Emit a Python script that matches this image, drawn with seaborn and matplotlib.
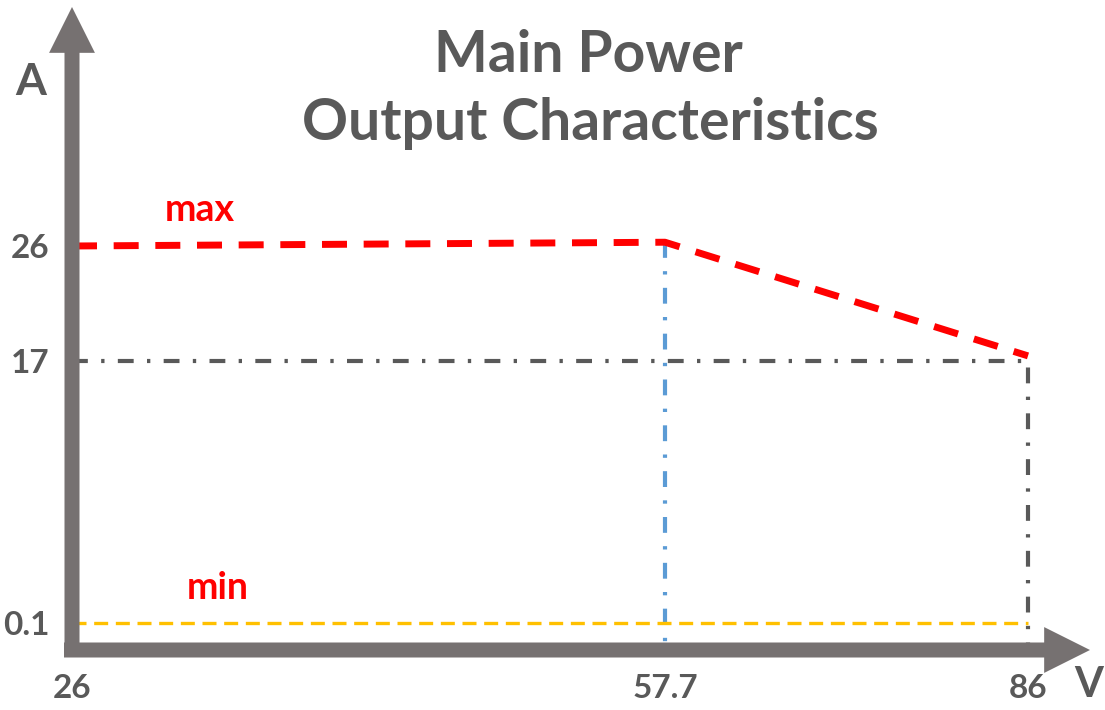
import numpy as np
import matplotlib
matplotlib.use('Agg')
import matplotlib.pyplot as plt
import seaborn as sns

# data
x_ticks = [26, 57.7, 86]
y_ticks = [0.1, 17, 26]
max_v = [26, 57.7, 86]
max_a = [26, 26.3, 17.4]
min_v = [26, 86]
min_a = [0.1, 0.1]
knee_v = [57.7, 57.7]
knee_a = [26.3, 0]
limit_v = [26, 86, 86]
limit_a = [17, 17, 0]

# schematic (non-linear) axes: value knots -> axes pixels
x_knots = [26, 57.7, 86, 100]
x_pix = [0, 593, 956, 1018]
y_knots = [0, 0.1, 17, 26, 45]
y_pix = [0, 27, 289, 404, 643]

def fx(v):
    return np.interp(v, x_knots, x_pix)

def ix(p):
    return np.interp(p, x_pix, x_knots)

def fy(v):
    return np.interp(v, y_knots, y_pix)

def iy(p):
    return np.interp(p, y_pix, y_knots)

sns.set_theme(style='white')
plt.rcParams['font.family'] = ['Lato', 'DejaVu Sans']

TXT = '#595959'
AXC = '#767171'

W, H = 1105, 710
fig = plt.figure(figsize=(W / 100, H / 100), dpi=100)
ax = fig.add_axes([72 / W, 60 / H, (1090 - 72) / W, 643 / H])
ax.set_xscale('function', functions=(fx, ix))
ax.set_yscale('function', functions=(fy, iy))
ax.set_xlim(26, 100)
ax.set_ylim(0, 45)
for s in ax.spines.values():
    s.set_visible(False)

dashdot = (0, (3.8, 3.2, 0.8, 3.2))
line_kw = dict(ax=ax, sort=False, estimator=None, errorbar=None)
sns.lineplot(x=limit_v, y=limit_a, color=TXT, lw=3, linestyle=dashdot, **line_kw)
sns.lineplot(x=knee_v, y=knee_a, color='#5B9BD5', lw=3, linestyle=dashdot, **line_kw)
sns.lineplot(x=min_v, y=min_a, color='#FFC000', lw=2.4, linestyle=(0, (4.2, 2.3)), **line_kw)
sns.lineplot(x=max_v, y=max_a, color='#FF0000', lw=5, linestyle=(0, (3.6, 2.4)), **line_kw)

# axis arrows
arrow = 'simple,head_length=3.3,head_width=3.3,tail_width=1.08'
ax.annotate('', xy=(0, 1), xytext=(0, -7 / 643), xycoords='axes fraction',
            arrowprops=dict(arrowstyle=arrow, mutation_scale=10, color=AXC, lw=0,
                            shrinkA=0, shrinkB=0), annotation_clip=False, zorder=5)
ax.annotate('', xy=(1, 0), xytext=(-8 / 1018, 0), xycoords='axes fraction',
            arrowprops=dict(arrowstyle=arrow, mutation_scale=10, color=AXC, lw=0,
                            shrinkA=0, shrinkB=0), annotation_clip=False, zorder=5)

ax.set_xticks(x_ticks, labels=['26', '57.7', '86'])
ax.set_yticks(y_ticks, labels=['0.1', '17', '26'])
ax.minorticks_off()
ax.tick_params(axis='both', length=0, labelsize=24, labelcolor=TXT)
ax.tick_params(axis='x', pad=17)
ax.tick_params(axis='y', pad=16)
for t in ax.get_xticklabels() + ax.get_yticklabels():
    t.set_fontweight('bold')

fig.text(31 / W, 1 - 82 / H, 'A', ha='center', va='center', fontsize=32,
         fontweight='bold', color=TXT)
fig.text(1089 / W, 1 - 685 / H, 'V', ha='center', va='center', fontsize=30,
         fontweight='bold', color=TXT)
fig.text(588 / W, 1 - 72 / H, 'Main Power', ha='center', va='baseline',
         fontsize=41, fontweight='bold', color=TXT)
fig.text(590 / W, 1 - 140 / H, 'Output Characteristics', ha='center', va='baseline',
         fontsize=41, fontweight='bold', color=TXT)
fig.text(200 / W, 1 - 210 / H, 'max', ha='center', va='center', fontsize=27,
         fontweight='bold', color='#FF0000')
fig.text(218 / W, 1 - 588 / H, 'min', ha='center', va='center', fontsize=27,
         fontweight='bold', color='#FF0000')

fig.savefig('out.png', dpi=100)
